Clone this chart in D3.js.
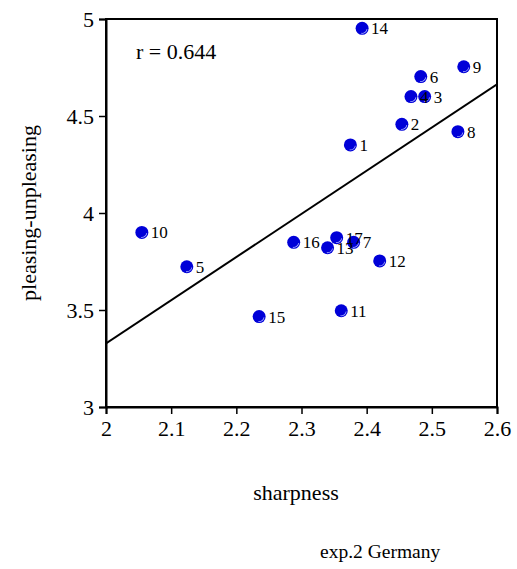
<!DOCTYPE html>
<html><head><meta charset="utf-8">
<script src="https://cdn.jsdelivr.net/npm/d3@7"></script>
<style>body{margin:0;background:#fff}svg{display:block}text{font-family:"Liberation Serif","Times New Roman",serif}</style>
</head><body>
<script>
const labels = ["1","2","3","4","5","6","7","8","9","10","11","12","13","14","15","16","17"];
const sharpness = [2.375,2.454,2.489,2.468,2.124,2.483,2.380,2.540,2.549,2.055,2.361,2.420,2.340,2.393,2.235,2.288,2.354];
const pleasing  = [4.351,4.457,4.600,4.600,3.723,4.703,3.849,4.419,4.754,3.900,3.496,3.753,3.821,4.952,3.466,3.849,3.873];
const xTicks = [2,2.1,2.2,2.3,2.4,2.5,2.6];
const yTicks = [3,3.5,4,4.5,5];
const fitLine = {slope:2.225, intercept:-1.122};
const rText = "r = 0.644";

const W=517,H=569;
const svg=d3.select("body").append("svg").attr("width",W).attr("height",H);
const x=d3.scaleLinear().domain([2,2.6]).range([106,497]);
const y=d3.scaleLinear().domain([3,5]).range([407,19]);

svg.append("rect").attr("x",x(2)).attr("y",y(5)).attr("width",x(2.6)-x(2)).attr("height",y(3)-y(5))
  .attr("fill","none").attr("stroke","#000").attr("stroke-width",2);

const xa=svg.append("g").attr("transform",`translate(0,${y(3)})`)
  .call(d3.axisBottom(x).tickValues(xTicks).tickSize(7).tickPadding(6).tickFormat(d3.format("")));
const ya=svg.append("g").attr("transform",`translate(${x(2)},0)`)
  .call(d3.axisLeft(y).tickValues(yTicks).tickSize(7).tickPadding(5).tickFormat(d3.format("")));
[xa,ya].forEach(a=>{a.select(".domain").attr("stroke-width",2);a.selectAll(".tick line").attr("stroke-width",1.5);
  a.selectAll("text").attr("font-size",22).attr("fill","#000");});

svg.append("clipPath").attr("id","clp").append("rect").attr("x",x(2)).attr("y",y(5)).attr("width",x(2.6)-x(2)).attr("height",y(3)-y(5));
svg.append("line").attr("clip-path","url(#clp)")
  .attr("x1",x(2)).attr("y1",y(fitLine.intercept+fitLine.slope*2))
  .attr("x2",x(2.6)).attr("y2",y(fitLine.intercept+fitLine.slope*2.6))
  .attr("stroke","#000").attr("stroke-width",2);

const data=labels.map((l,i)=>({l,sx:sharpness[i],py:pleasing[i]}));
const pts=svg.append("g").selectAll("g").data(data).enter().append("g")
  .attr("transform",d=>`translate(${x(d.sx)},${y(d.py)})`);
pts.append("circle").attr("r",6.5).attr("fill","#0000d8");
pts.append("path").attr("d",d3.arc()({innerRadius:4.6,outerRadius:5.4,startAngle:Math.PI*0.55,endAngle:Math.PI*1.05}))
  .attr("fill","#aab0ff");
svg.append("g").selectAll("text").data(data).enter().append("text")
  .attr("x",d=>x(d.sx)+9).attr("y",d=>y(d.py)+6).attr("font-size",17).attr("fill","#000").text(d=>d.l);

svg.append("text").attr("x",136).attr("y",59).attr("font-size",22).text(rText);
svg.append("text").attr("x",296).attr("y",500).attr("text-anchor","middle").attr("font-size",22).text("sharpness");
svg.append("text").attr("transform",`translate(36,${y(4)}) rotate(-90)`).attr("text-anchor","middle").attr("font-size",22).text("pleasing-unpleasing");
svg.append("text").attr("x",320).attr("y",558).attr("font-size",19.5).text("exp.2 Germany");
</script>
</body></html>
